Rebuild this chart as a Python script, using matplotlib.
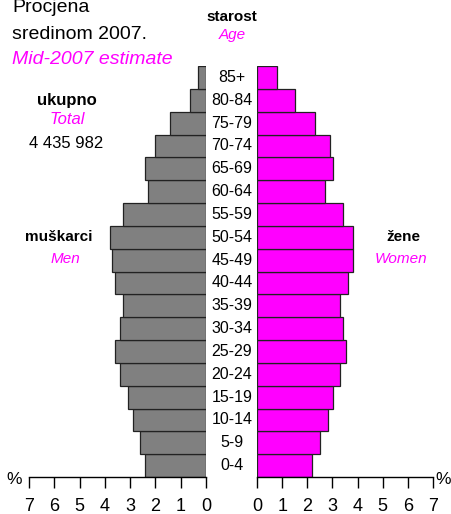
import matplotlib
matplotlib.use("Agg")
import matplotlib.pyplot as plt
import matplotlib.transforms as mtransforms
from matplotlib import font_manager

plt.rcParams["font.family"] = ["Liberation Sans", "DejaVu Sans"]

# age groups, bottom to top
ages = ["0-4", "5-9", "10-14", "15-19", "20-24", "25-29", "30-34", "35-39",
        "40-44", "45-49", "50-54", "55-59", "60-64", "65-69", "70-74",
        "75-79", "80-84", "85+"]
# share of total population, %
men = [2.40, 2.60, 2.90, 3.09, 3.40, 3.61, 3.40, 3.29, 3.61, 3.70,
       3.79, 3.29, 2.30, 2.40, 2.00, 1.41, 0.62, 0.30]
women = [2.20, 2.52, 2.81, 3.01, 3.32, 3.53, 3.41, 3.32, 3.61, 3.81,
         3.81, 3.41, 2.72, 3.01, 2.91, 2.32, 1.50, 0.81]
ticks = [0, 1, 2, 3, 4, 5, 6, 7]

W, H = 451, 514
MAGENTA = "#ff00ff"
GREY = "#808080"

# narrow face for the axis numbers, if there is one
names = {f.name for f in font_manager.fontManager.ttflist}
if "Liberation Sans Narrow" in names:
    NUM_FONT, NUM_SIZE = "Liberation Sans Narrow", 14
else:
    NUM_FONT, NUM_SIZE = "Liberation Sans", 13

fig = plt.figure(figsize=(W / 100, H / 100), dpi=100)


def px(x, y):
    return x / W, 1 - y / H


def rect(x0, x1, ytop, ybot):
    return [x0 / W, 1 - ybot / H, (x1 - x0) / W, (ybot - ytop) / H]


ax_l = fig.add_axes(rect(29, 206, 66, 477))
ax_r = fig.add_axes(rect(257, 433, 66, 477))

y = list(range(len(ages)))
ax_l.barh(y, men, height=1.0, color=GREY, edgecolor="#222222", linewidth=0.9)
ax_r.barh(y, women, height=1.0, color=MAGENTA, edgecolor="#222222", linewidth=0.9)

for ax in (ax_l, ax_r):
    ax.set_ylim(-0.5, len(ages) - 0.5)
    ax.set_xlim(0, 7)
    ax.set_xticks(ticks)
    ax.set_xticklabels([str(t) for t in ticks], family=NUM_FONT,
                       fontsize=NUM_SIZE)
    ax.set_yticks([])
    for s in ("left", "right", "top"):
        ax.spines[s].set_visible(False)
    ax.spines["bottom"].set_linewidth(1.0)
    ax.tick_params(axis="x", direction="out", length=8, width=1.0, pad=7)
    ax.set_facecolor("none")
ax_l.invert_xaxis()

# age labels in the gap
trans = mtransforms.blended_transform_factory(fig.transFigure, ax_l.transData)
for i, a in enumerate(ages):
    ax_l.text(232 / W, i, a, transform=trans, ha="center", va="center",
              fontsize=11.5, clip_on=False)

# texts
fig.text(*px(12, 12), "Procjena", fontsize=14, ha="left", va="baseline")
fig.text(*px(12, 39), "sredinom 2007.", fontsize=14, ha="left", va="baseline")
fig.text(*px(12, 64), "Mid-2007 estimate", fontsize=14, ha="left",
         va="baseline", color=MAGENTA, style="italic")

fig.text(*px(232, 17), "starost", fontsize=11, ha="center", va="center",
         weight="bold")
fig.text(*px(232, 35), "Age", fontsize=11, ha="center", va="center",
         color=MAGENTA, style="italic")

fig.text(*px(67, 100), "ukupno", fontsize=12, ha="center", va="center",
         weight="bold")
fig.text(*px(67, 119), "Total", fontsize=12, ha="center", va="center",
         color=MAGENTA, style="italic")
fig.text(*px(66, 143), "4 435 982", fontsize=12, ha="center", va="center")

fig.text(*px(59, 237), "muškarci", fontsize=11, ha="center", va="center",
         weight="bold")
fig.text(*px(65, 259), "Men", fontsize=11, ha="center", va="center",
         color=MAGENTA, style="italic")
fig.text(*px(403, 237), "žene", fontsize=11, ha="center", va="center",
         weight="bold")
fig.text(*px(401, 259), "Women", fontsize=11, ha="center", va="center",
         color=MAGENTA, style="italic")

fig.text(*px(14, 480), "%", fontsize=12.5, ha="center", va="center")
fig.text(*px(443, 480), "%", fontsize=12.5, ha="center", va="center")

fig.savefig("out.png", dpi=100)
